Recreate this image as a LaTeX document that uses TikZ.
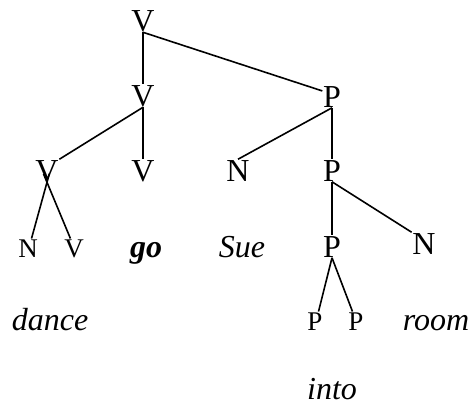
\documentclass[tikz,border=0pt]{standalone}
\usepackage{fontspec}
\setmainfont{Liberation Serif}
\usepackage{tikz}

\begin{document}
\begin{tikzpicture}[x=1pt, y=-1pt, line width=1.6pt,
  big/.style={inner sep=0pt, anchor=base, font=\fontsize{32}{36}\selectfont},
  small/.style={inner sep=0pt, anchor=base, font=\fontsize{27}{30}\selectfont},
  word/.style={inner sep=0pt, anchor=base, font=\fontsize{32}{36}\selectfont\itshape},
  cross/.style={shorten <=-9pt}]
\path[use as bounding box] (0,0) rectangle (472,407);
\node[big] (V0) at (143,31) {V};
\node[big] (V1) at (143,106) {V};
\node[big] (P1) at (332,107) {P};
\node[big] (V2) at (47,181) {V};
\node[big] (V3) at (143,181) {V};
\node[big] (N1) at (238,181) {N};
\node[big] (P2) at (332,181) {P};
\node[small] (N2) at (28,257) {N};
\node[small] (V4) at (74,257) {V};
\node[word, font=\fontsize{32}{36}\selectfont\bfseries\itshape] (go) at (146,257) {go};
\node[word] (Sue) at (242,257) {Sue};
\node[big] (P3) at (332,257) {P};
\node[big] (N3) at (424,254) {N};
\node[word] (dance) at (50,330) {dance};
\node[small] (P4) at (315,330) {P};
\node[small] (P5) at (356,330) {P};
\node[word] (room) at (436,330) {room};
\node[word] (into) at (332,399) {into};
\path (V0.south) edge (V1.north);
\path (V0.south) edge (P1.150);
\path (V1.south) edge (V2.north east);
\path (V1.south) edge (V3.north);
\path (P1.south) edge (N1.north);
\path (P1.south) edge (P2.north);
\path (V2.south) edge[cross] (N2.70);
\path (V2.south) edge[cross] (V4.110);
\path (P2.south) edge (P3.north);
\path (P2.south) edge (N3.north west);
\path (P3.south) edge (P4.70);
\path (P3.south) edge (P5.110);
\end{tikzpicture}
\end{document}
